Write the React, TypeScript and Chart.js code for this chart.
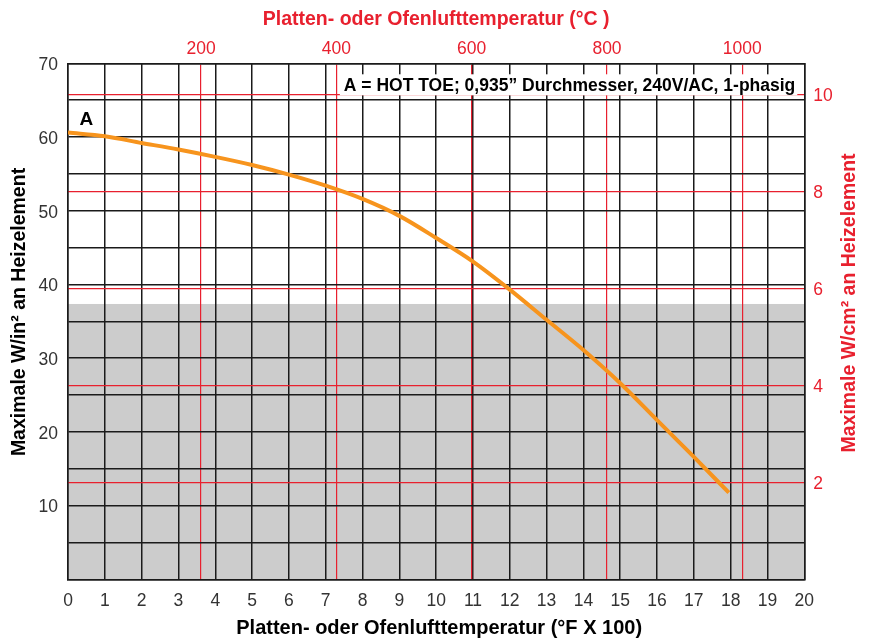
import React, { useEffect, useRef } from "react";
import { Chart, registerables } from "chart.js";

Chart.register(...registerables);

// Temperature (°F x 100) and max. watt density (W/in²) of curve A
const tempF100 = [0, 1, 2, 3, 4, 5, 6, 7, 8, 9, 10, 11, 12, 13, 14, 15, 16, 17, 17.95];
const maxWin2 = [60.6, 60.1, 59.2, 58.3, 57.3, 56.2, 54.9, 53.4, 51.6, 49.3, 46.3, 43.1, 39.3, 35.2, 31.1, 26.6, 21.6, 16.6, 11.75];

// Axes
const xRange = [0, 20];
const yRange = [0, 70];
const celsiusRange = [3.4, 1091.6];
const celsiusTicks = [200, 400, 600, 800, 1000];
const wcm2Range = [0, 10.64];
const wcm2Ticks = [2, 4, 6, 8, 10];
const grayZoneMax = 37.35;

// Texts
const titleBottom = "Platten- oder Ofenlufttemperatur (°F X 100)";
const titleTop = "Platten- oder Ofenlufttemperatur (°C )";
const titleLeft = "Maximale W/in² an Heizelement";
const titleRight = "Maximale W/cm² an Heizelement";
const legendText = "A = HOT TOE; 0,935” Durchmesser, 240V/AC, 1-phasig";
const curveLabel = "A";
const curveLabelPos = { x: 0.5, y: 62.3 };

const FONT = "'Liberation Sans', Arial, Helvetica, sans-serif";
const RED = "#e8202e";
const BLACK = "#1a1a1a";
const ORANGE = "#f7941d";

export default function App() {
  const ref = useRef<HTMLCanvasElement | null>(null);

  useEffect(() => {
    if (!ref.current) return;

    const bgPlugin = {
      id: "bgZone",
      beforeDraw(chart: any) {
        const { ctx, chartArea, scales } = chart;
        const yTop = scales.y.getPixelForValue(grayZoneMax);
        ctx.save();
        ctx.fillStyle = "#cccccc";
        ctx.fillRect(chartArea.left, yTop, chartArea.right - chartArea.left, chartArea.bottom - yTop);
        ctx.restore();
      },
    };

    const annPlugin = {
      id: "annotations",
      afterDatasetsDraw(chart: any) {
        const { ctx, chartArea, scales } = chart;
        ctx.save();
        // legend box
        ctx.font = `bold 17.5px ${FONT}`;
        const w = ctx.measureText(legendText).width;
        const boxRight = chartArea.right - 7;
        const boxTop = chartArea.top + 11;
        const boxH = 21;
        ctx.fillStyle = "#ffffff";
        ctx.fillRect(boxRight - w - 6, boxTop, w + 6, boxH);
        ctx.fillStyle = "#000000";
        ctx.textBaseline = "middle";
        ctx.textAlign = "right";
        ctx.fillText(legendText, boxRight - 2, boxTop + boxH / 2 + 1);
        // curve label
        ctx.font = `bold 19px ${FONT}`;
        ctx.textAlign = "center";
        ctx.fillText(curveLabel, scales.x.getPixelForValue(curveLabelPos.x), scales.y.getPixelForValue(curveLabelPos.y));
        ctx.restore();
      },
      afterDraw(chart: any) {
        const { ctx, chartArea } = chart;
        const cx = (chartArea.left + chartArea.right) / 2;
        ctx.save();
        ctx.textAlign = "center";
        ctx.textBaseline = "middle";
        ctx.font = `bold 20px ${FONT}`;
        ctx.fillStyle = "#000000";
        ctx.fillText(titleBottom, cx + 3, 628);
        ctx.font = `bold 19.5px ${FONT}`;
        ctx.fillStyle = RED;
        ctx.fillText(titleTop, cx, 20);
        ctx.save();
        ctx.translate(20, 312);
        ctx.rotate(-Math.PI / 2);
        ctx.fillStyle = "#000000";
        ctx.fillText(titleLeft, 0, 0);
        ctx.restore();
        ctx.save();
        ctx.translate(850, 303);
        ctx.rotate(-Math.PI / 2);
        ctx.fillStyle = RED;
        ctx.fillText(titleRight, 0, 0);
        ctx.restore();
        ctx.restore();
      },
    };

    const chart = new Chart(ref.current, {
      type: "line",
      data: {
        datasets: [
          {
            data: tempF100.map((x, i) => ({ x, y: maxWin2[i] })),
            borderColor: ORANGE,
            borderWidth: 4,
            pointRadius: 0,
            tension: 0.4,
            cubicInterpolationMode: "monotone",
            fill: false,
            xAxisID: "x",
            yAxisID: "y",
          },
        ],
      },
      options: {
        animation: false,
        responsive: false,
        devicePixelRatio: 1,
        layout: { padding: 0 },
        plugins: { legend: { display: false }, tooltip: { enabled: false } },
        scales: {
          x: {
            type: "linear",
            position: "bottom",
            min: xRange[0],
            max: xRange[1],
            afterFit: (s: any) => { s.height = 62.7; },
            ticks: {
              stepSize: 1,
              autoSkip: false,
              maxRotation: 0,
              padding: 11,
              color: "#333333",
              font: { family: FONT, size: 17.5 },
            },
            grid: { color: BLACK, lineWidth: 1.5, drawTicks: false },
            border: { display: true, color: BLACK, width: 1.5 },
          },
          x2: {
            type: "linear",
            position: "top",
            min: celsiusRange[0],
            max: celsiusRange[1],
            afterFit: (s: any) => { s.height = 63.3; },
            afterBuildTicks: (s: any) => { s.ticks = celsiusTicks.map((v) => ({ value: v })); },
            ticks: {
              autoSkip: false,
              maxRotation: 0,
              padding: 4,
              color: RED,
              font: { family: FONT, size: 17.5 },
              callback: (v: any) => String(v),
            },
            grid: { color: RED, lineWidth: 1.2, drawTicks: false },
            border: { display: true, color: BLACK, width: 1.5 },
          },
          y: {
            type: "linear",
            position: "left",
            min: yRange[0],
            max: yRange[1],
            afterFit: (s: any) => { s.width = 68; },
            ticks: {
              stepSize: 5,
              autoSkip: false,
              padding: 10,
              labelOffset: 2,
              color: "#333333",
              font: { family: FONT, size: 17.5 },
              callback: (v: any) => (v % 10 === 0 && v > 0 ? String(v) : ""),
            },
            grid: { color: BLACK, lineWidth: 1.5, drawTicks: false },
            border: { display: true, color: BLACK, width: 1.5 },
          },
          y1: {
            type: "linear",
            position: "right",
            min: wcm2Range[0],
            max: wcm2Range[1],
            afterFit: (s: any) => { s.width = 66.7; },
            afterBuildTicks: (s: any) => { s.ticks = wcm2Ticks.map((v) => ({ value: v })); },
            ticks: {
              autoSkip: false,
              padding: 9,
              labelOffset: 2,
              color: RED,
              font: { family: FONT, size: 17.5 },
              callback: (v: any) => String(v),
            },
            grid: { color: RED, lineWidth: 1.2, drawTicks: false },
            border: { display: true, color: BLACK, width: 1.5 },
          },
        },
      },
      plugins: [bgPlugin, annPlugin],
    } as any);

    return () => chart.destroy();
  }, []);

  return (
    <div style={{ position: "fixed", left: 0, top: 0, width: 871, height: 642, background: "#ffffff" }}>
      <canvas ref={ref} width={871} height={642} style={{ width: 871, height: 642 }} />
    </div>
  );
}
